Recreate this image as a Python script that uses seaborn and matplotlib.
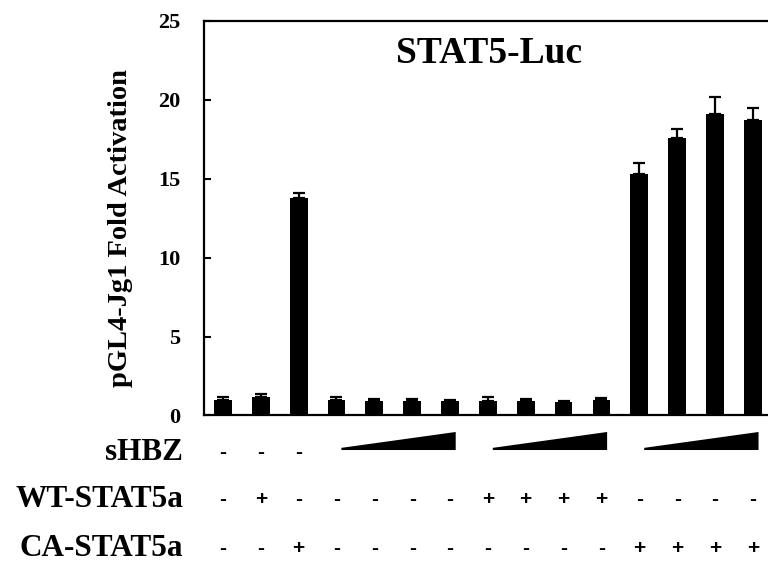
import numpy as np
import pandas as pd
import matplotlib
matplotlib.use("Agg")
import matplotlib.pyplot as plt
import matplotlib.transforms as mtransforms
import seaborn as sns

# bar heights and upper error
lanes = [str(i) for i in range(1, 16)]
fold_activation = [1.0, 1.2, 13.8, 1.0, 0.95, 0.95, 0.93, 0.95, 0.95, 0.88, 1.0,
                   15.3, 17.6, 19.1, 18.7]
fold_error = [0.15, 0.15, 0.3, 0.15, 0.08, 0.12, 0.08, 0.2, 0.07, 0.06, 0.12,
              0.7, 0.55, 1.1, 0.8]

# condition table under the bars
row_labels = ["sHBZ", "WT-STAT5a", "CA-STAT5a"]
shbz_signs = ["-", "-", "-"]
wt_signs = ["-", "+", "-", "-", "-", "-", "-", "+", "+", "+", "+", "-", "-", "-", "-"]
ca_signs = ["-", "-", "+", "-", "-", "-", "-", "-", "-", "-", "-", "+", "+", "+", "+"]
shbz_ramps = [(3, 6), (7, 10), (11, 14)]

title = "STAT5-Luc"
ylabel = "pGL4-Jg1 Fold Activation"

sns.set_theme(style="white")
plt.rcParams["font.family"] = ["Liberation Serif", "DejaVu Serif"]
plt.rcParams["font.weight"] = "bold"
for key in ["text.color", "axes.labelcolor", "xtick.color", "ytick.color"]:
    plt.rcParams[key] = "black"

df = pd.DataFrame({"lane": lanes, "fold": fold_activation})

fig = plt.figure(figsize=(7.68, 5.64), dpi=100)
ax = fig.add_axes([0.2656, 0.2633, 0.7344, 0.6995])

sns.barplot(data=df, x="lane", y="fold", color="black", width=0.47,
            errorbar=None, saturation=1, linewidth=0, ax=ax)
xpos = np.arange(len(lanes))
ax.errorbar(xpos, fold_activation, yerr=[np.zeros(len(lanes)), fold_error],
            fmt="none", ecolor="black", elinewidth=1.6, capsize=4.2,
            capthick=1.6, zorder=5)

ax.set_xlim(-0.5, 14.4)
ax.set_ylim(0, 25)
ax.set_yticks([0, 5, 10, 15, 20, 25])
ax.set_xticks([])
ax.set_xlabel("")
ax.set_ylabel(ylabel, fontsize=20.5, fontweight="bold")
ax.yaxis.set_label_coords(-0.125, 0.475)
ax.tick_params(axis="y", direction="in", length=5, width=1.5, pad=17,
               labelsize=16, left=True, colors="black")
for lab in ax.get_yticklabels():
    lab.set_fontweight("bold")

for side in ["left", "top", "bottom"]:
    ax.spines[side].set_visible(True)
    ax.spines[side].set_color("black")
    ax.spines[side].set_linewidth(1.6)
ax.spines["right"].set_visible(False)

ax.text(0.505, 0.893, title, transform=ax.transAxes, ha="center",
        va="baseline", fontsize=27, fontweight="bold", color="black")

# table below the axis
trans = mtransforms.blended_transform_factory(ax.transData, ax.transAxes)
row_y = [-0.095, -0.214, -0.336]
for label, y in zip(row_labels, row_y):
    ax.text(-0.037, y, label, transform=ax.transAxes, ha="right", va="center",
            fontsize=22.5, fontweight="bold", color="black", clip_on=False)

for rows, y in zip([shbz_signs, wt_signs, ca_signs], row_y):
    for i, s in enumerate(rows):
        ax.text(i, y, s, transform=trans, ha="center", va="center",
                fontsize=15, fontweight="bold", color="black",
                family=["Liberation Sans", "DejaVu Sans"], clip_on=False)

for start, end in shbz_ramps:
    x0, x1 = start + 0.13, end + 0.15
    ax.fill([x0, x0, x1, x1], [-0.0875, -0.082, -0.0418, -0.0875],
            color="black", transform=trans, clip_on=False, lw=0)

fig.savefig("out.png", dpi=100)
